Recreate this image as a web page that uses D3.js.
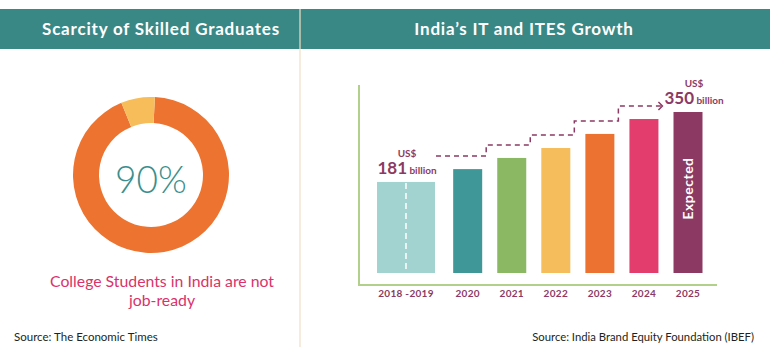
<!DOCTYPE html>
<html lang="en">
<head>
    <meta charset="UTF-8">
    <title>Skilled Graduates and IT Growth</title>
    <script src="https://d3js.org/d3.v7.min.js"></script>
    <style>
        body { margin: 0; background: #fff; }
        svg { display: block; font-family: Lato, "Open Sans", sans-serif; }
    </style>
</head>
<body>
    <svg id="chart" width="770" height="350"></svg>
    <script>
        // Donut data (share of college students)
        const donutLabels = ["Not job-ready", "Job-ready"];
        const donutValues = [93, 7];

        // Bar data (US$ billion, as drawn)
        const years = ["2018 -2019", "2020", "2021", "2022", "2023", "2024", "2025"];
        const revenue = [181, 212, 239, 263, 297, 333, 350];
        const barColors = ["#a3d3d1", "#3f9797", "#8bb862", "#f5bd5c", "#ec7231", "#e33d6e", "#8c3a63"];

        const width = 770, height = 350;
        const teal = "#3a8886";
        const plum = "#8c3a63";

        const svg = d3.select("#chart");

        // Header bands
        svg.append("rect").attr("x", 0).attr("y", 9).attr("width", width).attr("height", 40).attr("fill", teal);
        svg.append("line")
            .attr("x1", 300).attr("x2", 300).attr("y1", 9).attr("y2", 347)
            .attr("stroke", "#f1dfc3").attr("stroke-width", 1.2);

        svg.append("text").attr("x", 161).attr("y", 35)
            .attr("text-anchor", "middle").attr("fill", "#fff")
            .attr("font-size", 17).attr("font-weight", 700).attr("letter-spacing", 0.8)
            .text("Scarcity of Skilled Graduates");
        svg.append("text").attr("x", 524).attr("y", 35)
            .attr("text-anchor", "middle").attr("fill", "#fff")
            .attr("font-size", 17).attr("font-weight", 700).attr("letter-spacing", 0.8)
            .text("India\u2019s IT and ITES Growth");

        // ---- Left panel: donut
        const cx = 151, cy = 175;
        const pie = d3.pie().sort(null)
            .startAngle(0.05).endAngle(2 * Math.PI + 0.05);
        const arc = d3.arc().innerRadius(52).outerRadius(78);
        const donutColor = d3.scaleOrdinal().domain(donutLabels).range(["#ec7430", "#f6bd5a"]);

        svg.append("g").attr("transform", `translate(${cx},${cy})`)
            .selectAll("path")
            .data(pie(donutValues))
            .join("path")
            .attr("d", arc)
            .attr("fill", (d, i) => donutColor(donutLabels[i]));

        svg.append("text").attr("x", cx).attr("y", cy + 18)
            .attr("text-anchor", "middle").attr("fill", "#3a8f8e")
            .attr("font-size", 37).attr("font-weight", 300)
            .text("90%");

        const caption = svg.append("text").attr("text-anchor", "middle")
            .attr("fill", "#d9336b").attr("font-size", 15.8);
        caption.append("tspan").attr("x", 162).attr("y", 287).text("College Students in India are not");
        caption.append("tspan").attr("x", 162).attr("y", 306).text("job-ready");

        svg.append("text").attr("x", 14).attr("y", 341)
            .attr("fill", "#231f20").attr("font-size", 11.5)
            .text("Source: The Economic Times");

        // ---- Right panel: bars
        const axisLeft = 359, axisBottom = 285, axisTop = 85, axisRight = 717;
        const barBase = 273;

        // first category covers two years, so it sits a little further from the rest
        const slot = i => i === 0 ? 0 : i + 0.4;
        const x = d3.scaleLinear().domain([0, 6.4]).range([406, 688]);
        const barW = i => i === 0 ? 58 : 29;

        // bars in the graphic start from an offset baseline
        const y = d3.scaleLinear().domain([-39, 350]).range([barBase, 112]);

        const axisColor = "#b3cf8c";
        svg.append("line").attr("x1", axisLeft).attr("x2", axisLeft)
            .attr("y1", axisTop).attr("y2", axisBottom)
            .attr("stroke", axisColor).attr("stroke-width", 2);
        svg.append("line").attr("x1", axisLeft - 1).attr("x2", axisRight)
            .attr("y1", axisBottom).attr("y2", axisBottom)
            .attr("stroke", axisColor).attr("stroke-width", 2);

        svg.append("g").selectAll("rect")
            .data(revenue)
            .join("rect")
            .attr("x", (d, i) => x(slot(i)) - barW(i) / 2)
            .attr("width", (d, i) => barW(i))
            .attr("y", d => y(d))
            .attr("height", d => barBase - y(d))
            .attr("fill", (d, i) => barColors[i]);

        // white dashed split inside the 2018-2019 bar
        svg.append("line")
            .attr("x1", x(0)).attr("x2", x(0))
            .attr("y1", y(revenue[0]) + 1).attr("y2", barBase)
            .attr("stroke", "#fff").attr("stroke-width", 1.5)
            .attr("stroke-dasharray", "6,4");

        // year labels
        svg.append("g").selectAll("text")
            .data(years)
            .join("text")
            .attr("x", (d, i) => x(slot(i)))
            .attr("y", 297)
            .attr("text-anchor", "middle")
            .attr("fill", plum).attr("font-size", 10).attr("font-weight", 700)
            .attr("letter-spacing", 0.3)
            .text(d => d);

        // "Expected" inside 2025 bar
        const last = revenue.length - 1;
        svg.append("text")
            .attr("transform", `translate(${x(slot(last)) + 5},${(y(revenue[last]) + barBase) / 2 - 4}) rotate(-90)`)
            .attr("text-anchor", "middle").attr("fill", "#fff")
            .attr("font-size", 14).attr("font-weight", 700)
            .attr("letter-spacing", 0.5)
            .text("Expected");

        // stepped dashed growth line
        const stepPts = [];
        for (let i = 1; i < last; i++) {
            const x0 = x(slot(i - 1)) + barW(i - 1) / 2 + (i === 1 ? 1 : 4);
            const x1 = x(slot(i)) + barW(i) / 2 + 4;
            const yy = y(revenue[i]) - 13;
            stepPts.push([x0, yy], [x1, yy]);
        }
        svg.append("path")
            .attr("d", d3.line()(stepPts))
            .attr("fill", "none").attr("stroke", plum)
            .attr("stroke-width", 1.5).attr("stroke-dasharray", "5,4");
        const tip = stepPts[stepPts.length - 1];
        svg.append("path")
            .attr("d", `M${tip[0] - 4},${tip[1] - 4}L${tip[0]},${tip[1]}L${tip[0] - 4},${tip[1] + 4}`)
            .attr("fill", "none").attr("stroke", plum).attr("stroke-width", 1.5);

        // value callouts for first and last bars
        [0, last].forEach(i => {
            const lx = x(slot(i)) + (i === 0 ? 1 : 6);
            const ly = y(revenue[i]) - 8;
            svg.append("text").attr("x", lx).attr("y", ly - 17)
                .attr("text-anchor", "middle").attr("fill", plum)
                .attr("font-size", 10).attr("font-weight", 700)
                .text("US$");
            const t = svg.append("text").attr("x", lx).attr("y", ly)
                .attr("text-anchor", "middle").attr("fill", plum).attr("font-weight", 700);
            t.append("tspan").attr("font-size", 17).text(revenue[i]);
            t.append("tspan").attr("font-size", 10).text(" billion");
        });

        svg.append("text").attr("x", 754).attr("y", 341)
            .attr("text-anchor", "end")
            .attr("fill", "#231f20").attr("font-size", 11.3)
            .text("Source: India Brand Equity Foundation (IBEF)");
    </script>
</body>
</html>
